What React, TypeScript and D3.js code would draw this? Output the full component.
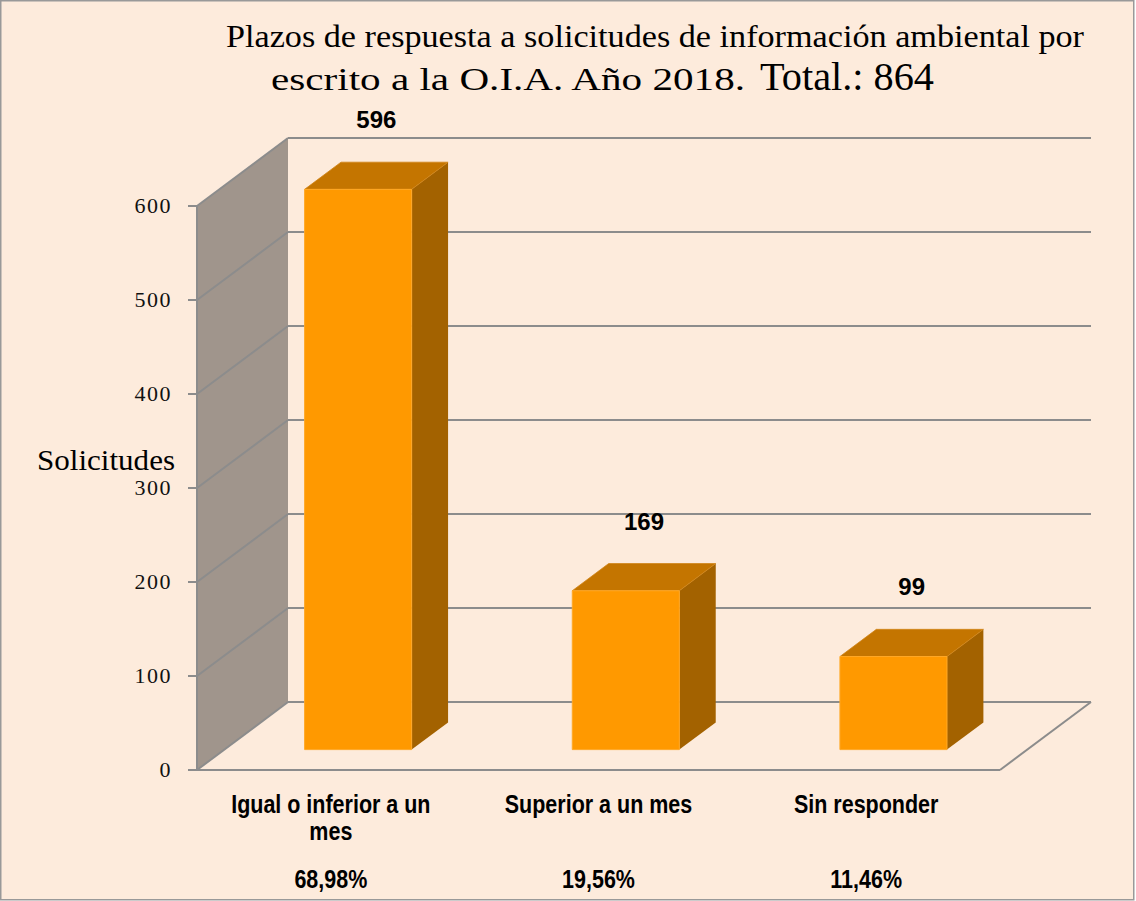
import React from "react";
import * as d3 from "d3";

const categories = ["Igual o inferior a un mes", "Superior a un mes", "Sin responder"];
const categoryLines = [["Igual o inferior a un", "mes"], ["Superior a un mes"], ["Sin responder"]];
const values = [596, 169, 99];
const percentLabels = ["68,98%", "19,56%", "11,46%"];
const yTicks = [0, 100, 200, 300, 400, 500, 600];

const W = 1136;
const H = 901;
const x0 = 197, x1 = 1000;
const yBase = 770;
const DX = 91, DY = -68;
const d0 = 0.3, d1 = 0.7;

const sans = "'Liberation Sans', Arial, sans-serif";

export default function App() {
  const x = d3.scaleBand<string>().domain(categories).range([x0, x1]).padding(0);
  const y = d3.scaleLinear().domain([0, 600]).range([yBase, yBase - 564]);
  const bw = x.bandwidth() * 0.4;
  const grid = "#8c8c8c";
  const pt = (px: number, py: number, d: number) => [px + DX * d, py + DY * d];
  const poly = (pts: number[][]) => pts.map((p) => p.join(",")).join(" ");

  const condensed = (cx: number, cy: number, s: string, key?: any) => (
    <text
      key={key}
      transform={`translate(${cx},${cy}) scale(0.86,1)`}
      textAnchor="middle"
      fontFamily={sans}
      fontWeight="bold"
      fontSize={25}
      fill="#000"
    >
      {s}
    </text>
  );

  return (
    <svg width={W} height={H} style={{ position: "absolute", left: 0, top: 0, display: "block" }}>
      <rect x={0.75} y={0.75} width={W - 3} height={H - 2} fill="#FDEBDC" stroke="#999" strokeWidth={1.5} />
      {/* left wall */}
      <polygon
        points={poly([pt(x0, y(0), 0), pt(x0, y(0), 1), pt(x0, y(600), 1), pt(x0, y(600), 0)])}
        fill="#A0958C"
      />
      {/* gridlines: wall diagonals + back wall horizontals */}
      {yTicks.map((t) => {
        const [bx, by] = pt(x0, y(t), 1);
        return (
          <g key={t}>
            <line x1={x0} y1={y(t)} x2={bx} y2={by} stroke={grid} strokeWidth={2} />
            <line x1={bx} y1={by} x2={x1 + DX} y2={by} stroke={grid} strokeWidth={2} />
            <line x1={x0 - 9} y1={y(t)} x2={x0} y2={y(t)} stroke={grid} strokeWidth={2} />
            <text
              x={172}
              y={y(t) + 7}
              textAnchor="end"
              fontFamily="'Liberation Serif', serif"
              fontSize={22}
              letterSpacing={1.5}
              fill="#111"
            >
              {t}
            </text>
          </g>
        );
      })}
      {/* front axis */}
      <line x1={x0} y1={y(0)} x2={x0} y2={y(600)} stroke={grid} strokeWidth={2} />
      {/* floor edges */}
      <line x1={x0} y1={yBase} x2={x1} y2={yBase} stroke={grid} strokeWidth={2} />
      <line x1={x1} y1={yBase} x2={x1 + DX} y2={yBase + DY} stroke={grid} strokeWidth={2} />
      {/* bars */}
      {categories.map((c, i) => {
        const cx = (x(c) as number) + x.bandwidth() / 2;
        const lx = cx - bw / 2, rx = cx + bw / 2;
        const yb = y(0), yt = y(values[i]);
        const fbl = pt(lx, yb, d0), fbr = pt(rx, yb, d0), ftl = pt(lx, yt, d0), ftr = pt(rx, yt, d0);
        const bbr = pt(rx, yb, d1), btl = pt(lx, yt, d1), btr = pt(rx, yt, d1);
        const labelX = (ftl[0] + btr[0]) / 2;
        return (
          <g key={c}>
            <polygon points={poly([fbr, bbr, btr, ftr])} fill="#A36200" />
            <polygon points={poly([ftl, ftr, btr, btl])} fill="#C47500" stroke="#D08418" strokeWidth={0.8} />
            <polygon points={poly([fbl, fbr, ftr, ftl])} fill="#FF9900" stroke="#FFA826" strokeWidth={1} />
            <text
              x={labelX}
              y={btl[1] - 34}
              textAnchor="middle"
              fontFamily={sans}
              fontWeight="bold"
              fontSize={24}
              fill="#000"
            >
              {values[i]}
            </text>
            {categoryLines[i].map((ln, j) => condensed(cx, 813 + j * 27, ln, j))}
            {condensed(cx, 888, percentLabels[i])}
          </g>
        );
      })}
      {/* axis title */}
      <text x={37} y={470} fontFamily="'Liberation Serif', serif" fontSize={29} textLength={138} lengthAdjust="spacingAndGlyphs" fill="#000">
        Solicitudes
      </text>
      {/* chart title */}
      <text x={226} y={47} fontFamily="'Liberation Serif', serif" fontSize={32} textLength={858} lengthAdjust="spacingAndGlyphs" fill="#000">
        Plazos de respuesta a solicitudes de información ambiental por
      </text>
      <text x={271} y={90} fontFamily="'Liberation Serif', serif" fontSize={32} textLength={474} lengthAdjust="spacingAndGlyphs" fill="#000">
        escrito a la O.I.A. Año 2018.
      </text>
      <text x={760} y={90} fontFamily="'Liberation Serif', serif" fontSize={39} textLength={174} lengthAdjust="spacingAndGlyphs" fill="#000">
        Total.: 864
      </text>
    </svg>
  );
}
